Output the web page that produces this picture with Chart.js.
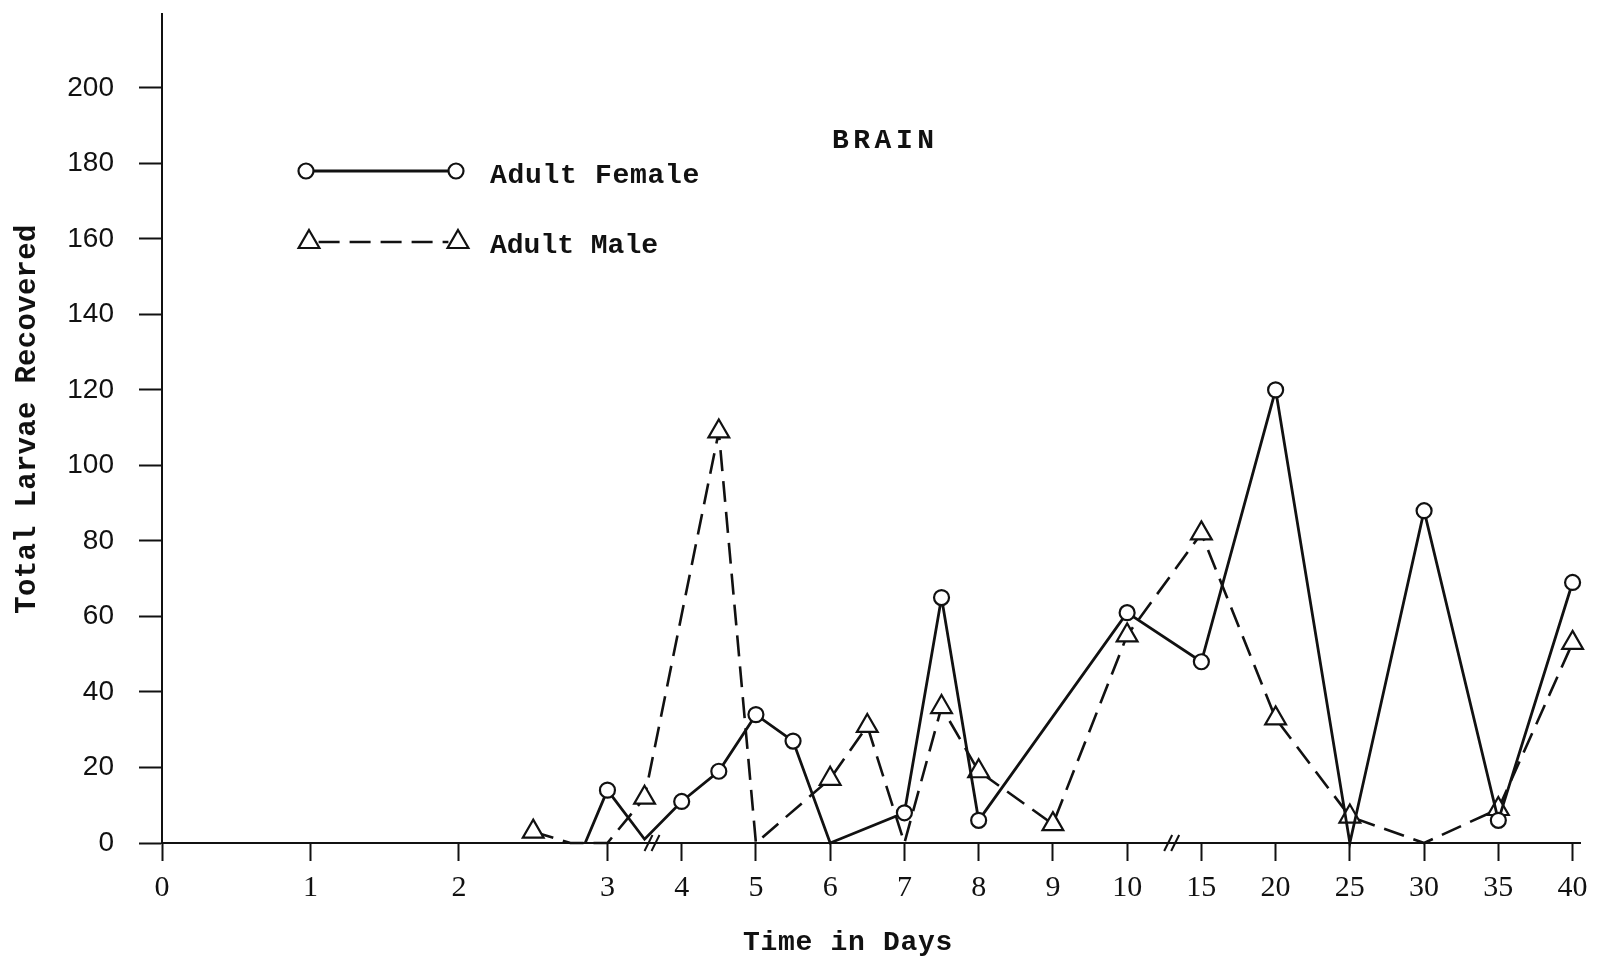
<!DOCTYPE html>
<html>
<head>
<meta charset="utf-8">
<title>Brain – Total Larvae Recovered</title>
<script src="https://cdn.jsdelivr.net/npm/chart.js@4/dist/chart.umd.min.js"></script>
<style>
  html, body { margin: 0; padding: 0; background: #ffffff; }
  canvas { display: block; }
</style>
</head>
<body>
<canvas id="chart" width="1600" height="963"></canvas>
<script>
// ---- data -------------------------------------------------------------
const tickDays   = [0, 1, 2, 3, 4, 5, 6, 7, 8, 9, 10, 15, 20, 25, 30, 35, 40];
const tickLabels = ['0', '1', '2', '3', '4', '5', '6', '7', '8', '9', '10', '15', '20', '25', '30', '35', '40'];

const femaleDays   = [2.85, 3, 3.5, 4, 4.5, 5, 5.5, 6, 7, 7.5, 8, 10, 15, 20, 25, 30, 35, 40];
const femaleCounts = [0, 14, 1, 11, 19, 34, 27, 0, 8, 65, 6, 61, 48, 120, 0, 88, 6, 69];
const femaleMarked = [false, true, false, true, true, true, true, false, true, true, true, true, true, true, false, true, true, true];

const maleDays   = [2.5, 2.75, 3, 3.5, 4.5, 5, 6, 6.5, 7, 7.5, 8, 9, 10, 15, 20, 25, 30, 35, 40];
const maleCounts = [3, 0, 0, 12, 109, 0, 17, 31, 0, 36, 19, 5, 55, 82, 33, 7, 0, 9, 53];
const maleMarked = [true, false, false, true, true, false, true, true, false, true, true, true, true, true, true, true, false, true, true];

// day values where the time axis is broken
const axisBreakDays = [3.6, 13];

// ---- broken time axis ------------------------------------------------
// The first three day intervals are drawn twice as wide as the rest,
// and every tick after that sits one slot further along.
const WIDE_GAPS = 3;
const tickSlots = [];
tickDays.forEach((d, i) => {
  tickSlots.push(i === 0 ? 0 : tickSlots[i - 1] + (i <= WIDE_GAPS ? 2 : 1));
});
const AXIS_SLOTS = tickSlots[tickSlots.length - 1] + 0.1;

function slotOfDay(day) {
  for (let i = 1; i < tickDays.length; i++) {
    if (day <= tickDays[i]) {
      const t = (day - tickDays[i - 1]) / (tickDays[i] - tickDays[i - 1]);
      return tickSlots[i - 1] + t * (tickSlots[i] - tickSlots[i - 1]);
    }
  }
  return tickSlots[tickSlots.length - 1];
}
function dayOfSlot(slot) {
  for (let i = 1; i < tickSlots.length; i++) {
    if (slot <= tickSlots[i]) {
      const t = (slot - tickSlots[i - 1]) / (tickSlots[i] - tickSlots[i - 1]);
      return tickDays[i - 1] + t * (tickDays[i] - tickDays[i - 1]);
    }
  }
  return tickDays[tickDays.length - 1];
}

class SegmentedDayScale extends Chart.LinearScale {
  buildTicks() {
    return tickDays.map(v => ({ value: v }));
  }
  getPixelForValue(value) {
    if (value === null || value === undefined || isNaN(value)) return NaN;
    return this.left + (slotOfDay(value) / AXIS_SLOTS) * this.width;
  }
  getValueForPixel(pixel) {
    return dayOfSlot(((pixel - this.left) / this.width) * AXIS_SLOTS);
  }
}
SegmentedDayScale.id = 'segmentedDays';
SegmentedDayScale.defaults = Chart.LinearScale.defaults;
Chart.register(SegmentedDayScale);

// ---- styling ---------------------------------------------------------
const INK = '#111111';
const TYPE_FONT = '"Liberation Mono", "Courier New", monospace';

const femaleLook = {
  borderColor: INK, borderWidth: 2.8, borderDash: [],
  pointStyle: 'circle', markerRadius: 7.5, pointBorderWidth: 2.2
};
const maleLook = {
  borderColor: INK, borderWidth: 2.6, borderDash: [21, 10],
  pointStyle: 'triangle', markerRadius: 12, pointBorderWidth: 2.2
};

function series(label, days, counts, marked, look) {
  return {
    label,
    data: days.map((d, i) => ({ x: d, y: counts[i] })),
    borderColor: look.borderColor,
    borderWidth: look.borderWidth,
    borderDash: look.borderDash,
    pointStyle: look.pointStyle,
    pointRadius: marked.map(m => (m ? look.markerRadius : 0)),
    pointBackgroundColor: '#ffffff',
    pointBorderColor: look.borderColor,
    pointBorderWidth: look.pointBorderWidth,
    tension: 0,
    fill: false,
    clip: false
  };
}

function drawSpacedText(ctx, text, x, y, font, spacing, align) {
  ctx.save();
  ctx.font = font;
  ctx.letterSpacing = spacing + 'px';
  ctx.textAlign = align || 'left';
  ctx.textBaseline = 'alphabetic';
  ctx.fillStyle = INK;
  ctx.fillText(text, x, y);
  ctx.restore();
}

// Titles, key and axis-break marks drawn on top of the plot
const figureDecorations = {
  id: 'figureDecorations',
  afterDraw(chart) {
    const { ctx } = chart;
    const xs = chart.scales.x, ys = chart.scales.y;

    // "//" marks across the time axis
    ctx.save();
    ctx.strokeStyle = INK;
    ctx.lineWidth = 2;
    const axisY = ys.getPixelForValue(0);
    axisBreakDays.forEach(d => {
      const px = xs.getPixelForValue(d);
      [-3.5, 3.5].forEach(off => {
        ctx.beginPath();
        ctx.moveTo(px + off - 4, axisY + 8);
        ctx.lineTo(px + off + 4, axisY - 8);
        ctx.stroke();
      });
    });
    ctx.restore();

    // figure title
    drawSpacedText(ctx, 'BRAIN', 832, 148, 'bold 28px ' + TYPE_FONT, 4.5);

    // axis titles
    drawSpacedText(ctx, 'Time in Days', 743, 950, 'bold 28px ' + TYPE_FONT, 0.7);
    ctx.save();
    ctx.translate(35, 419);
    ctx.rotate(-Math.PI / 2);
    drawSpacedText(ctx, 'Total Larvae Recovered', 0, 0, 'bold 29px ' + TYPE_FONT, 0.3, 'center');
    ctx.restore();

    // key
    const keyRows = [
      { look: femaleLook, text: chart.data.datasets[0].label, x0: 306, x1: 456, y: 171, textY: 183, spacing: 0.7 },
      { look: maleLook, text: chart.data.datasets[1].label, x0: 309, x1: 458, y: 242, textY: 253, spacing: 0 }
    ];
    keyRows.forEach(row => {
      ctx.save();
      ctx.strokeStyle = row.look.borderColor;
      ctx.lineWidth = row.look.borderWidth;
      ctx.setLineDash(row.look.borderDash);
      ctx.beginPath();
      ctx.moveTo(row.x0 + row.look.markerRadius * 0.8, row.y);
      ctx.lineTo(row.x1 - row.look.markerRadius * 0.8, row.y);
      ctx.stroke();
      ctx.setLineDash([]);
      ctx.fillStyle = '#ffffff';
      ctx.lineWidth = row.look.pointBorderWidth;
      [row.x0, row.x1].forEach(px => {
        Chart.helpers.drawPoint(ctx, {
          pointStyle: row.look.pointStyle,
          radius: row.look.markerRadius,
          borderWidth: row.look.pointBorderWidth,
          rotation: 0
        }, px, row.y);
      });
      ctx.restore();
      drawSpacedText(ctx, row.text, 490, row.textY, 'bold 28px ' + TYPE_FONT, row.spacing);
    });
  }
};

new Chart(document.getElementById('chart'), {
  type: 'line',
  data: {
    datasets: [
      series('Adult Female', femaleDays, femaleCounts, femaleMarked, femaleLook),
      series('Adult Male', maleDays, maleCounts, maleMarked, maleLook)
    ]
  },
  options: {
    responsive: false,
    animation: false,
    events: [],
    layout: { padding: { top: 12, right: 20, bottom: 0, left: 0 } },
    plugins: {
      legend: { display: false },
      tooltip: { enabled: false },
      title: { display: false }
    },
    scales: {
      x: {
        type: 'segmentedDays',
        position: 'bottom',
        grid: {
          drawOnChartArea: false,
          drawTicks: true,
          tickLength: 18,
          tickColor: INK,
          tickWidth: 2
        },
        border: { display: true, color: INK, width: 2 },
        ticks: {
          autoSkip: false,
          maxRotation: 0,
          minRotation: 0,
          padding: 9,
          color: INK,
          font: { family: '"Liberation Serif", serif', size: 30 },
          callback: (value, index) => tickLabels[index]
        },
        afterFit: s => { s.height = 120; s.paddingLeft = 0; s.paddingRight = 0; }
      },
      y: {
        type: 'linear',
        min: 0,
        max: 219.5,
        grid: {
          drawOnChartArea: false,
          drawTicks: true,
          tickLength: 23,
          tickColor: INK,
          tickWidth: 2
        },
        border: { display: true, color: INK, width: 2 },
        ticks: {
          stepSize: 20,
          includeBounds: false,
          padding: 25,
          color: INK,
          font: { family: '"Liberation Sans", sans-serif', size: 28 }
        },
        afterFit: s => { s.width = 162; s.paddingTop = 0; s.paddingBottom = 0; }
      }
    }
  },
  plugins: [figureDecorations]
});
</script>
</body>
</html>
